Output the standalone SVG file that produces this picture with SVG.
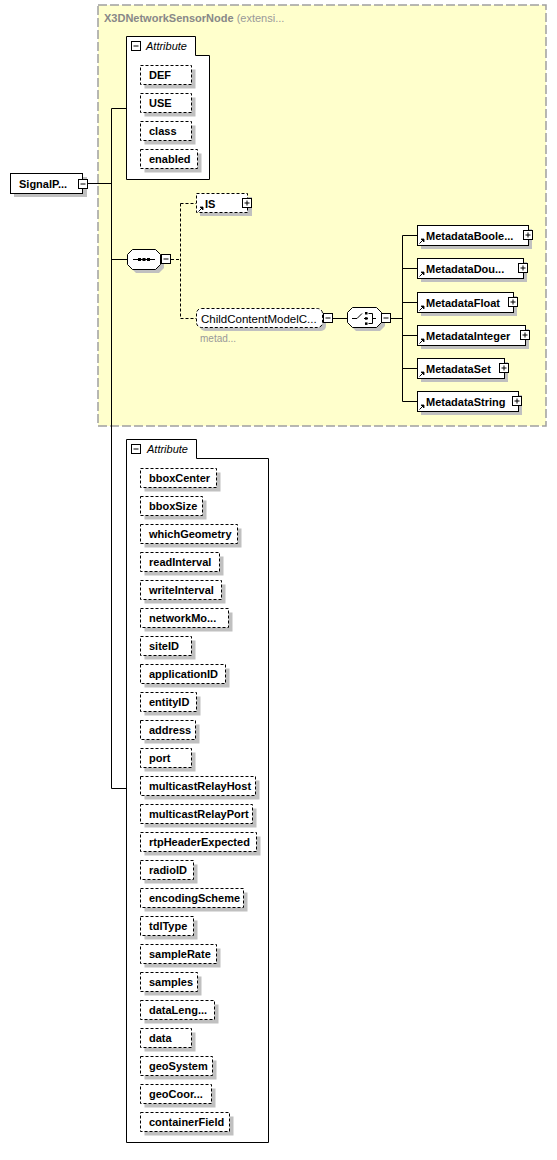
<svg xmlns="http://www.w3.org/2000/svg" width="557" height="1160" viewBox="0 0 557 1160">
<style>
.t{font-family:"Liberation Sans",Arial,sans-serif;font-size:11px;font-weight:bold;fill:#000}
.n{font-family:"Liberation Sans",Arial,sans-serif;font-size:11.5px;fill:#000}
.i{font-family:"Liberation Sans",Arial,sans-serif;font-size:11px;font-style:italic;fill:#000}
.g{font-family:"Liberation Sans",Arial,sans-serif;font-size:10px;fill:#999}
.tt{font-family:"Liberation Sans",Arial,sans-serif;font-size:11px;font-weight:bold;fill:#888}
.tn{font-family:"Liberation Sans",Arial,sans-serif;font-size:11px;fill:#999}
.sh{fill:#c0c0c0}
.box{fill:#fff;stroke:#000;stroke-width:1}
.dbox{fill:#fff;stroke:#000;stroke-width:1;stroke-dasharray:3,2}
.ln{stroke:#000;stroke-width:1;fill:none}
.dln{stroke:#000;stroke-width:1;fill:none;stroke-dasharray:3,2}
.btn{fill:#fff;stroke:#000;stroke-width:1}
.fr{fill:#fff;stroke:#000;stroke-width:1}
</style>
<defs>
<g id="minus"><rect x="0.5" y="0.5" width="9" height="9" class="btn"/><path d="M2.5 5H7.5" class="ln"/></g>
<g id="plus"><rect x="0.5" y="0.5" width="9" height="9" class="btn"/><path d="M2.5 5H7.5M5 2.5V7.5" class="ln"/></g>
<g id="ref"><path d="M0.5 5.5L4.5 1.5" class="ln"/><path d="M2 1H5V4Z" fill="#000" stroke="#000" stroke-width="0.8"/></g>
</defs>

<!-- extension frame -->
<g id="ext">
<rect x="98" y="5" width="448" height="421" fill="#ffffcc" stroke="#a0a0a0" stroke-width="1.5" stroke-dasharray="9,3"/>
<text x="104" y="22"><tspan class="tt">X3DNetworkSensorNode</tspan><tspan class="tn"> (extensi...</tspan></text>
</g>

<!-- connectors -->
<g id="connectors">
<path d="M87 183.5H111.5M111.5 108.5V788.5M111.5 108.5H126M111.5 788.5H126M111.5 259.5H127" class="ln"/>
<path d="M171 259.5H180.5M180.5 203.5V318.5M180.5 203.5H196M180.5 318.5H196" class="dln"/>
<path d="M333 318.5H347M391 318.5H402.5M402.5 235.5V401.5M402.5 235.5H417M402.5 268.5H417M402.5 302.5H417M402.5 335.5H417M402.5 368.5H417M402.5 401.5H417" class="ln"/>
</g>

<!-- root -->
<g id="signalp">
<rect x="14" y="177" width="73" height="20" class="sh"/>
<rect x="10.5" y="173.5" width="72" height="20" class="box"/>
<text x="19" y="187.5" class="t">SignalP...</text>
<use href="#minus" x="78" y="179"/>
</g>

<!-- attribute group 1 -->
<g id="attrs1">
<path d="M126.5 179.5V36.5H195.5V55.5H209.5V179.5Z" class="fr"/>
<use href="#minus" x="131" y="41"/>
<text x="146" y="50" class="i">Attribute</text>
<g id="a-DEF"><rect x="144.5" y="69.5" width="51" height="19" class="sh"/><rect x="140.5" y="65.5" width="51" height="19" class="dbox"/><text x="149" y="79" class="t">DEF</text></g>
<g id="a-USE"><rect x="144.5" y="97.5" width="51" height="19" class="sh"/><rect x="140.5" y="93.5" width="51" height="19" class="dbox"/><text x="149" y="107" class="t">USE</text></g>
<g id="a-class"><rect x="144.5" y="125.5" width="51" height="19" class="sh"/><rect x="140.5" y="121.5" width="51" height="19" class="dbox"/><text x="149" y="135" class="t">class</text></g>
<g id="a-enabled"><rect x="144.5" y="153.5" width="57" height="19" class="sh"/><rect x="140.5" y="149.5" width="57" height="19" class="dbox"/><text x="149" y="163" class="t">enabled</text></g>
</g>

<!-- sequence compositor -->
<g id="seq">
<path d="M136 253H159L164 258V268L159 273H136L131 268V258Z" class="sh"/>
<path d="M132.5 249.5H155.5L160.5 254.5V264.5L155.5 269.5H132.5L127.5 264.5V254.5Z" class="box"/>
<path d="M133 259.5H155" class="ln"/>
<rect x="138" y="258" width="3" height="3" fill="#000"/>
<rect x="142.5" y="258" width="3" height="3" fill="#000"/>
<rect x="147" y="258" width="3" height="3" fill="#000"/>
<use href="#minus" x="161" y="254"/>
</g>

<!-- IS -->
<g id="IS">
<rect x="200" y="197" width="52" height="19" class="sh"/>
<rect x="196.5" y="193.5" width="51" height="19" class="dbox"/>
<use href="#ref" x="198" y="206"/>
<text x="205" y="207.5" class="t">IS</text>
<use href="#plus" x="242" y="198"/>
</g>

<!-- ChildContentModelCore -->
<g id="ccm">
<rect x="200" y="312" width="126" height="19" rx="5" class="sh"/>
<rect x="196.5" y="308.5" width="126" height="19" rx="5" class="dbox"/>
<text x="201" y="322.5" class="n">ChildContentModelC...</text>
<use href="#minus" x="323" y="313"/>
<text x="200" y="342" class="g">metad...</text>
</g>

<!-- choice compositor -->
<g id="choice">
<path d="M356 311H380L385 316V326L380 331H356L351 326V316Z" class="sh"/>
<path d="M352.5 307.5H376.5L381.5 312.5V322.5L376.5 327.5H352.5L347.5 322.5V312.5Z" class="box"/>
<path d="M352 318.5H357L362 313.5M364 318.5H368M368.5 313.5H372.5V323.5H368.5M372.5 318.5H376" class="ln"/>
<rect x="365" y="312" width="2.5" height="2.5" fill="#000"/>
<rect x="365" y="317.2" width="2.5" height="2.5" fill="#000"/>
<rect x="365" y="322.4" width="2.5" height="2.5" fill="#000"/>
<use href="#minus" x="381" y="313"/>
</g>

<!-- Metadata nodes -->
<g id="m-bool"><rect x="421" y="229" width="111" height="20" class="sh"/><rect x="417.5" y="225.5" width="111" height="20" class="box"/><use href="#ref" x="419" y="238"/><text x="426" y="239.5" class="t">MetadataBoole...</text><use href="#plus" x="523" y="230"/></g>
<g id="m-dou"><rect x="421" y="262" width="106" height="20" class="sh"/><rect x="417.5" y="258.5" width="106" height="20" class="box"/><use href="#ref" x="419" y="271"/><text x="426" y="272.5" class="t">MetadataDou...</text><use href="#plus" x="518" y="263"/></g>
<g id="m-float"><rect x="421" y="296" width="96" height="20" class="sh"/><rect x="417.5" y="292.5" width="96" height="20" class="box"/><use href="#ref" x="419" y="305"/><text x="426" y="306.5" class="t">MetadataFloat</text><use href="#plus" x="508" y="297"/></g>
<g id="m-int"><rect x="421" y="329" width="108" height="20" class="sh"/><rect x="417.5" y="325.5" width="108" height="20" class="box"/><use href="#ref" x="419" y="338"/><text x="426" y="339.5" class="t">MetadataInteger</text><use href="#plus" x="520" y="330"/></g>
<g id="m-set"><rect x="421" y="362" width="87" height="20" class="sh"/><rect x="417.5" y="358.5" width="87" height="20" class="box"/><use href="#ref" x="419" y="371"/><text x="426" y="372.5" class="t">MetadataSet</text><use href="#plus" x="499" y="363"/></g>
<g id="m-str"><rect x="421" y="395" width="101" height="20" class="sh"/><rect x="417.5" y="391.5" width="101" height="20" class="box"/><use href="#ref" x="419" y="404"/><text x="426" y="405.5" class="t">MetadataString</text><use href="#plus" x="512" y="396"/></g>

<!-- attribute group 2 -->
<g id="attrs2">
<path d="M126.5 1142.5V439.5H196.5V458.5H268.5V1142.5Z" class="fr"/>
<use href="#minus" x="131" y="444"/>
<text x="147" y="453" class="i">Attribute</text>
<g id="b-bboxCenter"><rect x="144.5" y="472.5" width="76" height="19" class="sh"/><rect x="140.5" y="468.5" width="76" height="19" class="dbox"/><text x="149" y="482" class="t">bboxCenter</text></g>
<g id="b-bboxSize"><rect x="144.5" y="500.5" width="62" height="19" class="sh"/><rect x="140.5" y="496.5" width="62" height="19" class="dbox"/><text x="149" y="510" class="t">bboxSize</text></g>
<g id="b-whichGeometry"><rect x="144.5" y="528.5" width="97" height="19" class="sh"/><rect x="140.5" y="524.5" width="97" height="19" class="dbox"/><text x="149" y="538" class="t">whichGeometry</text></g>
<g id="b-readInterval"><rect x="144.5" y="556.5" width="79" height="19" class="sh"/><rect x="140.5" y="552.5" width="79" height="19" class="dbox"/><text x="149" y="566" class="t">readInterval</text></g>
<g id="b-writeInterval"><rect x="144.5" y="584.5" width="81" height="19" class="sh"/><rect x="140.5" y="580.5" width="81" height="19" class="dbox"/><text x="149" y="594" class="t">writeInterval</text></g>
<g id="b-networkMode"><rect x="144.5" y="612.5" width="88" height="19" class="sh"/><rect x="140.5" y="608.5" width="88" height="19" class="dbox"/><text x="149" y="622" class="t">networkMo...</text></g>
<g id="b-siteID"><rect x="144.5" y="640.5" width="51" height="19" class="sh"/><rect x="140.5" y="636.5" width="51" height="19" class="dbox"/><text x="149" y="650" class="t">siteID</text></g>
<g id="b-applicationID"><rect x="144.5" y="668.5" width="85" height="19" class="sh"/><rect x="140.5" y="664.5" width="85" height="19" class="dbox"/><text x="149" y="678" class="t">applicationID</text></g>
<g id="b-entityID"><rect x="144.5" y="696.5" width="56" height="19" class="sh"/><rect x="140.5" y="692.5" width="56" height="19" class="dbox"/><text x="149" y="706" class="t">entityID</text></g>
<g id="b-address"><rect x="144.5" y="724.5" width="55" height="19" class="sh"/><rect x="140.5" y="720.5" width="55" height="19" class="dbox"/><text x="149" y="734" class="t">address</text></g>
<g id="b-port"><rect x="144.5" y="752.5" width="51" height="19" class="sh"/><rect x="140.5" y="748.5" width="51" height="19" class="dbox"/><text x="149" y="762" class="t">port</text></g>
<g id="b-multicastRelayHost"><rect x="144.5" y="780.5" width="115" height="19" class="sh"/><rect x="140.5" y="776.5" width="115" height="19" class="dbox"/><text x="149" y="790" class="t">multicastRelayHost</text></g>
<g id="b-multicastRelayPort"><rect x="144.5" y="808.5" width="112" height="19" class="sh"/><rect x="140.5" y="804.5" width="112" height="19" class="dbox"/><text x="149" y="818" class="t">multicastRelayPort</text></g>
<g id="b-rtpHeaderExpected"><rect x="144.5" y="836.5" width="116" height="19" class="sh"/><rect x="140.5" y="832.5" width="116" height="19" class="dbox"/><text x="149" y="846" class="t">rtpHeaderExpected</text></g>
<g id="b-radioID"><rect x="144.5" y="864.5" width="53" height="19" class="sh"/><rect x="140.5" y="860.5" width="53" height="19" class="dbox"/><text x="149" y="874" class="t">radioID</text></g>
<g id="b-encodingScheme"><rect x="144.5" y="892.5" width="103" height="19" class="sh"/><rect x="140.5" y="888.5" width="103" height="19" class="dbox"/><text x="149" y="902" class="t">encodingScheme</text></g>
<g id="b-tdlType"><rect x="144.5" y="920.5" width="53" height="19" class="sh"/><rect x="140.5" y="916.5" width="53" height="19" class="dbox"/><text x="149" y="930" class="t">tdlType</text></g>
<g id="b-sampleRate"><rect x="144.5" y="948.5" width="76" height="19" class="sh"/><rect x="140.5" y="944.5" width="76" height="19" class="dbox"/><text x="149" y="958" class="t">sampleRate</text></g>
<g id="b-samples"><rect x="144.5" y="976.5" width="57" height="19" class="sh"/><rect x="140.5" y="972.5" width="57" height="19" class="dbox"/><text x="149" y="986" class="t">samples</text></g>
<g id="b-dataLength"><rect x="144.5" y="1004.5" width="74" height="19" class="sh"/><rect x="140.5" y="1000.5" width="74" height="19" class="dbox"/><text x="149" y="1014" class="t">dataLeng...</text></g>
<g id="b-data"><rect x="144.5" y="1032.5" width="51" height="19" class="sh"/><rect x="140.5" y="1028.5" width="51" height="19" class="dbox"/><text x="149" y="1042" class="t">data</text></g>
<g id="b-geoSystem"><rect x="144.5" y="1060.5" width="72" height="19" class="sh"/><rect x="140.5" y="1056.5" width="72" height="19" class="dbox"/><text x="149" y="1070" class="t">geoSystem</text></g>
<g id="b-geoCoords"><rect x="144.5" y="1088.5" width="71" height="19" class="sh"/><rect x="140.5" y="1084.5" width="71" height="19" class="dbox"/><text x="149" y="1098" class="t">geoCoor...</text></g>
<g id="b-containerField"><rect x="144.5" y="1116.5" width="89" height="19" class="sh"/><rect x="140.5" y="1112.5" width="89" height="19" class="dbox"/><text x="149" y="1126" class="t">containerField</text></g>
</g>
</svg>
